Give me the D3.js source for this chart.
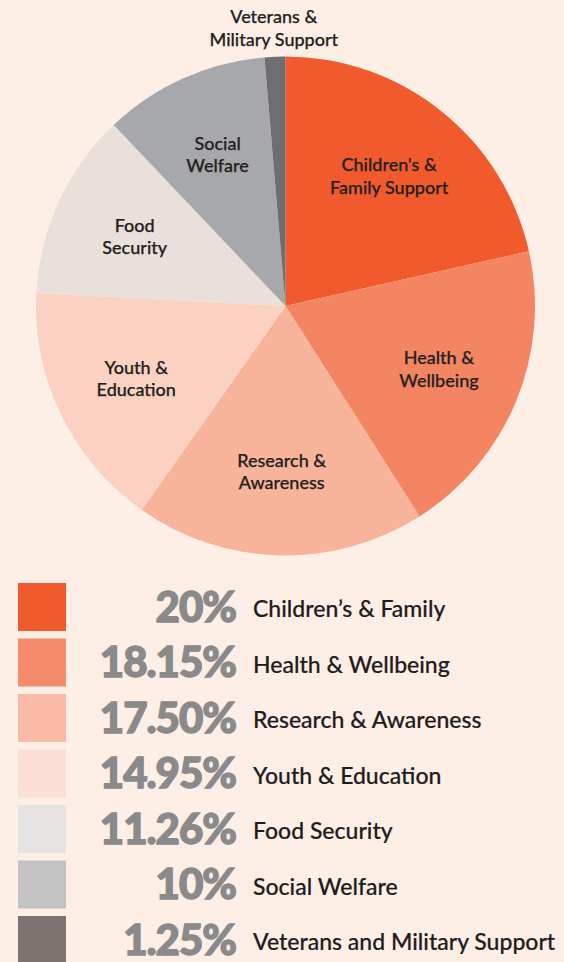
<!DOCTYPE html>
<html>
<head>
<meta charset="utf-8">
<script src="https://cdn.jsdelivr.net/npm/d3@7"></script>
<style>
  html, body { margin: 0; padding: 0; background: #fdefe6; }
  svg { display: block; }
</style>
</head>
<body>
<svg id="chart" width="564" height="962"></svg>
<script>
// ---- data ----
const categories = ["Children's & Family Support", "Health & Wellbeing", "Research & Awareness", "Youth & Education", "Food Security", "Social Welfare", "Veterans & Military Support"];
const pieLabels = [["Children's &", "Family Support"], ["Health &", "Wellbeing"], ["Research &", "Awareness"], ["Youth &", "Education"], ["Food", "Security"], ["Social", "Welfare"], ["Veterans &", "Military Support"]];
const values = [20, 18.15, 17.50, 14.95, 11.26, 10, 1.25];
const percentLabels = ["20%", "18.15%", "17.50%", "14.95%", "11.26%", "10%", "1.25%"];
const legendLabels = ["Children\u2019s & Family", "Health & Wellbeing", "Research & Awareness", "Youth & Education", "Food Security", "Social Welfare", "Veterans and Military Support"];
const sliceColors = ["#f15a2c", "#f48562", "#f7b49b", "#fbd2c1", "#e9dfdb", "#a7a8ab", "#6d6e71"];
const swatchColors = ["#f15a2c", "#f68b6b", "#f9bba7", "#fbded5", "#e5e3e2", "#c2c2c2", "#7d7370"];

const svg = d3.select("#chart");
const font = "Lato, 'Open Sans', sans-serif";

// ---- pie ----
const cx = 285.5, cy = 306, R = 249.5;
const g = svg.append("g").attr("transform", `translate(${cx},${cy})`);
const pie = d3.pie().sort(null).value(d => d)(values);
const arc = d3.arc().innerRadius(0).outerRadius(R);
g.selectAll("path.slice").data(pie).join("path")
  .attr("class", "slice")
  .attr("d", arc)
  .attr("fill", (d, i) => sliceColors[i]);

const labelArc = d3.arc().innerRadius(166).outerRadius(166);
const outerArc = d3.arc().innerRadius(278).outerRadius(278);
pie.forEach((d, i) => {
  const c = (i === values.length - 1 ? outerArc : labelArc).centroid(d);
  const t = g.append("text")
    .attr("x", c[0]).attr("y", c[1])
    .attr("text-anchor", "middle")
    .attr("font-family", font)
    .attr("font-size", 18)
    .attr("font-weight", 500)
    .attr("stroke", "#231f20")
    .attr("stroke-width", 0.25)
    .attr("fill", "#231f20");
  pieLabels[i].forEach((ln, j) => {
    t.append("tspan").attr("x", c[0]).attr("dy", j === 0 ? -5 : 22.5).text(ln);
  });
});

// ---- legend ----
const rowY = d3.scaleBand().domain(d3.range(values.length))
  .range([583, 583 + 55.5 * (values.length - 1) + 48])
  .paddingInner(7.5 / 55.5).paddingOuter(0);
const leg = svg.append("g");
const rows = leg.selectAll("g.row").data(values).join("g").attr("class", "row")
  .attr("transform", (d, i) => `translate(0,${rowY(i)})`);
rows.append("rect")
  .attr("x", 18).attr("y", 0)
  .attr("width", 48).attr("height", rowY.bandwidth())
  .attr("fill", (d, i) => swatchColors[i]);
rows.append("text")
  .attr("x", 236).attr("y", 38.5)
  .attr("text-anchor", "end")
  .attr("font-family", font)
  .attr("font-size", 42)
  .attr("font-weight", 900)
  .attr("letter-spacing", -1)
  .attr("fill", "#8a8a8a")
  .attr("stroke", "#8a8a8a")
  .attr("stroke-width", 1.4)
  .text((d, i) => percentLabels[i]);
rows.append("text")
  .attr("x", 253).attr("y", 34)
  .attr("font-family", font)
  .attr("font-size", 23)
  .attr("font-weight", 500)
  .attr("fill", "#1f1c1d")
  .attr("stroke", "#1f1c1d")
  .attr("stroke-width", 0.2)
  .text((d, i) => legendLabels[i]);
</script>
</body>
</html>
